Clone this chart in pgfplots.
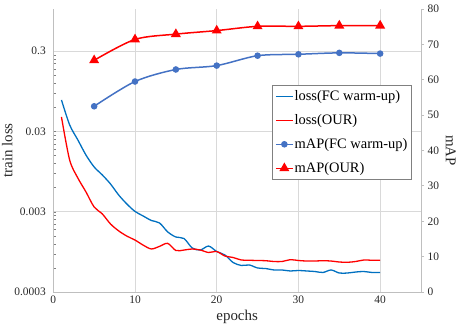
\documentclass[border=0pt]{standalone}
\usepackage{pgfplots}
\pgfplotsset{compat=1.18}
\usepackage{fontspec}
\setmainfont{Liberation Serif}
\definecolor{lossblue}{HTML}{0070C0}
\definecolor{mapblue}{HTML}{4472C4}
\definecolor{gridc}{HTML}{D9D9D9}
\definecolor{axc}{HTML}{BFBFBF}
\pgfplotstableread{
ep lossfc lossour
1 0.0738 0.0453
2 0.0361 0.0132
3 0.0235 0.00789
4 0.0152 0.00528
5 0.0108 0.00343
6 0.00859 0.00281
7 0.00664 0.00211
8 0.00484 0.00173
9 0.00374 0.00149
10 0.00302 0.00133
11 0.00265 0.00115
12 0.00233 0.00103
13 0.00217 0.00111
14 0.00168 0.00121
15 0.00145 0.000986
16 0.00139 0.000999
17 0.00106 0.00103
18 0.00100 0.000999
19 0.00112 0.000931
20 0.000957 0.000957
21 0.000867 0.000842
22 0.000699 0.000807
23 0.000642 0.000751
24 0.000651 0.000745
25 0.000597 0.000740
26 0.000588 0.000736
27 0.000564 0.000719
28 0.000564 0.000719
29 0.000548 0.000758
30 0.000556 0.000740
31 0.000548 0.000729
32 0.000540 0.000729
33 0.000525 0.000736
34 0.000564 0.000729
35 0.000517 0.000709
36 0.000517 0.000703
37 0.000532 0.000719
38 0.000540 0.000751
39 0.000525 0.000745
40 0.000525 0.000745
}\losstable
\pgfplotstableread{
ep mapfc mapour
5 52.5 65.5
10 59.5 71.4
15 62.9 72.9
20 64.0 73.9
25 66.8 75.1
30 67.2 75.1
35 67.6 75.3
40 67.4 75.3
}\maptable
\begin{document}
\begin{tikzpicture}
\begin{axis}[
  at={(0,0)}, anchor=south west, scale only axis,
  width=367.7bp, height=283bp,
  xmin=0, xmax=45, ymode=log, ymin=0.0003, ymax=1,
  xtick={0,10,20,30,40},
  ytick={0.0003,0.003,0.03,0.3},
  yticklabels={0.0003,0.003,0.03,0.3},
  axis x line*=bottom, axis y line*=left,
  axis line style={draw=axc, line width=0.8bp},
  major tick length=0pt, minor tick num=0,
  xmajorgrids, ymajorgrids,
  grid style={draw=gridc, line width=0.8bp},
  /pgf/number format/assume math mode=true,
  tick label style={font=\fontsize{11.5}{13}\selectfont, text=black!85},
  label style={font=\fontsize{15}{17}\selectfont, text=black!85},
  xlabel={epochs}, ylabel={train loss},
  ylabel style={yshift=-5bp},
  yticklabel style={xshift=-4bp},
]
\addplot[lossblue, line width=1.3bp, smooth, no marks] table[x=ep, y=lossfc] {\losstable};
\addplot[red, line width=1.3bp, smooth, no marks] table[x=ep, y=lossour] {\losstable};
\end{axis}
\begin{axis}[
  at={(0,0)}, anchor=south west, scale only axis,
  width=367.7bp, height=283bp,
  xmin=0, xmax=45, ymin=0, ymax=80,
  ytick={0,10,...,80},
  axis y line*=right, axis x line=none,
  axis line style={draw=axc, line width=0.8bp},
  tick align=outside, major tick length=3bp,
  tick style={draw=axc, line width=0.8bp},
  /pgf/number format/assume math mode=true,
  tick label style={font=\fontsize{11.5}{13}\selectfont, text=black!85},
  label style={font=\fontsize{15}{17}\selectfont, text=black!85},
  ylabel={mAP}, ylabel style={rotate=180},
  legend style={at={(0.594,0.731)}, anchor=north west, draw=gray, fill=white,
    line width=0.8bp, font=\fontsize{14.5}{16}\selectfont, row sep=8.5bp,
    inner sep=3bp, nodes={inner xsep=1bp}},
  legend cell align=left,
]
\addlegendimage{lossblue, line width=1.3bp, no marks}
\addlegendentry{loss(FC warm-up)}
\addlegendimage{red, line width=1.3bp, no marks}
\addlegendentry{loss(OUR)}
\addplot[mapblue, line width=1.5bp, smooth, mark=*, mark size=2.5bp] table[x=ep, y=mapfc] {\maptable};
\addlegendentry{mAP(FC warm-up)}
\addplot[red, line width=1.5bp, smooth, mark=triangle*, mark size=4.3bp, mark options={solid}] table[x=ep, y=mapour] {\maptable};
\addlegendentry{mAP(OUR)}
\end{axis}
\pgfresetboundingbox
\path[use as bounding box] (-53.3bp,-41bp) rectangle (409.7bp,292bp);
\end{tikzpicture}
\end{document}
